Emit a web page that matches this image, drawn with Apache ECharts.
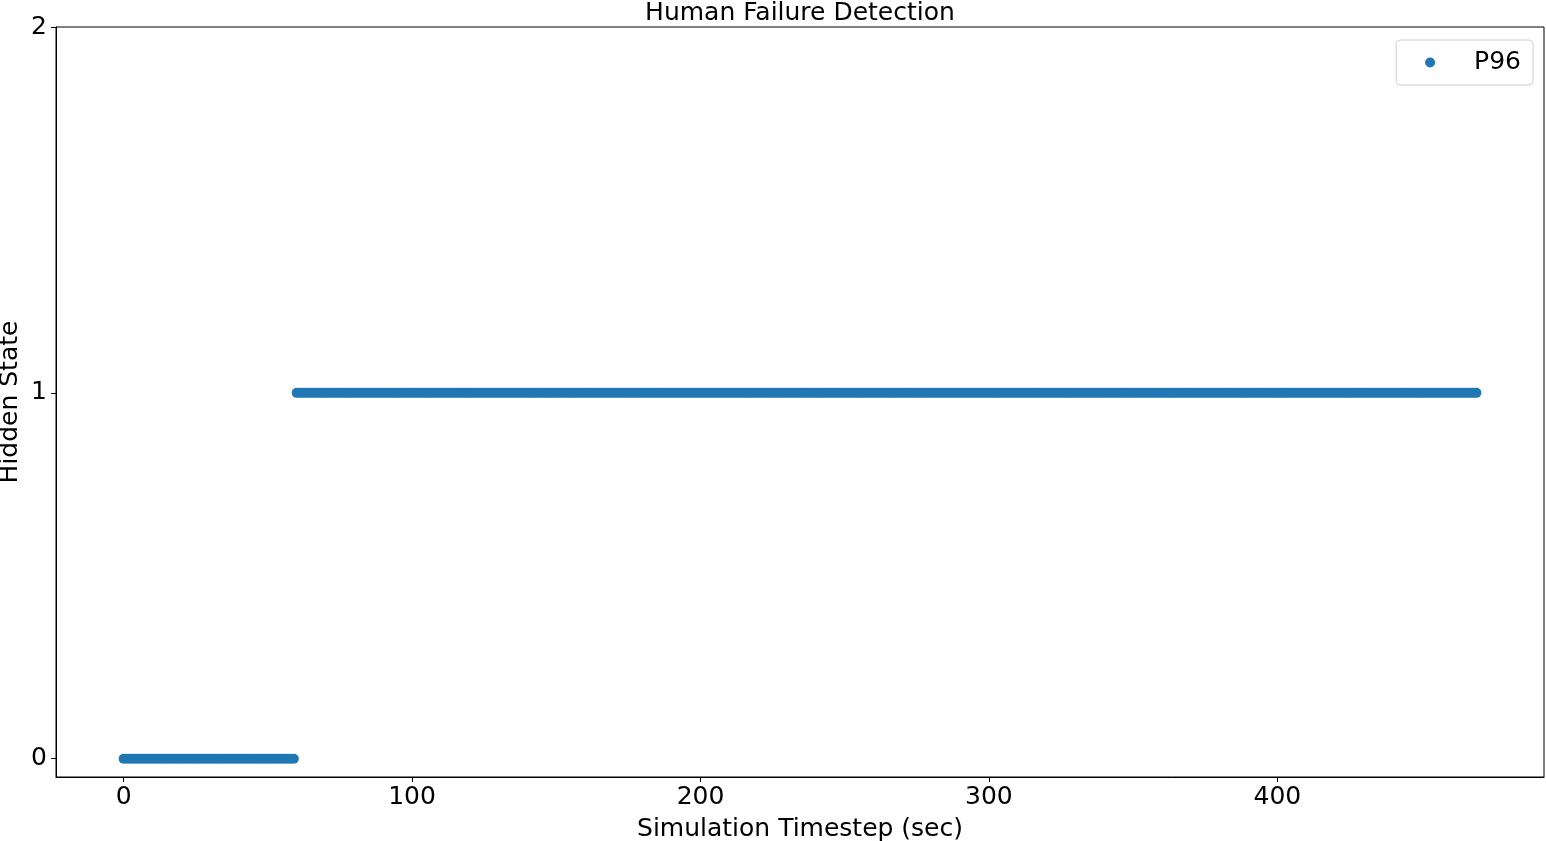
<!DOCTYPE html>
<html>
<head>
<meta charset="utf-8">
<script src="https://cdn.jsdelivr.net/npm/echarts@6/dist/echarts.min.js"></script>
<style>
html,body{margin:0;padding:0;background:#fff;}
#chart{width:1546px;height:841px;}
</style>
</head>
<body>
<div id="chart"></div>
<script>
const chartTitle = "Human Failure Detection";
const xAxisName = "Simulation Timestep (sec)";
const yAxisName = "Hidden State";
const seriesName = "P96";
const xTicks = [0, 100, 200, 300, 400];
const yTicks = [0, 1, 2];

const timesteps = [
0,1,2,3,4,5,6,7,8,9,10,11,12,13,14,15,16,17,18,19,
20,21,22,23,24,25,26,27,28,29,30,31,32,33,34,35,36,37,38,39,
40,41,42,43,44,45,46,47,48,49,50,51,52,53,54,55,56,57,58,59,
60,61,62,63,64,65,66,67,68,69,70,71,72,73,74,75,76,77,78,79,
80,81,82,83,84,85,86,87,88,89,90,91,92,93,94,95,96,97,98,99,
100,101,102,103,104,105,106,107,108,109,110,111,112,113,114,115,116,117,118,119,
120,121,122,123,124,125,126,127,128,129,130,131,132,133,134,135,136,137,138,139,
140,141,142,143,144,145,146,147,148,149,150,151,152,153,154,155,156,157,158,159,
160,161,162,163,164,165,166,167,168,169,170,171,172,173,174,175,176,177,178,179,
180,181,182,183,184,185,186,187,188,189,190,191,192,193,194,195,196,197,198,199,
200,201,202,203,204,205,206,207,208,209,210,211,212,213,214,215,216,217,218,219,
220,221,222,223,224,225,226,227,228,229,230,231,232,233,234,235,236,237,238,239,
240,241,242,243,244,245,246,247,248,249,250,251,252,253,254,255,256,257,258,259,
260,261,262,263,264,265,266,267,268,269,270,271,272,273,274,275,276,277,278,279,
280,281,282,283,284,285,286,287,288,289,290,291,292,293,294,295,296,297,298,299,
300,301,302,303,304,305,306,307,308,309,310,311,312,313,314,315,316,317,318,319,
320,321,322,323,324,325,326,327,328,329,330,331,332,333,334,335,336,337,338,339,
340,341,342,343,344,345,346,347,348,349,350,351,352,353,354,355,356,357,358,359,
360,361,362,363,364,365,366,367,368,369,370,371,372,373,374,375,376,377,378,379,
380,381,382,383,384,385,386,387,388,389,390,391,392,393,394,395,396,397,398,399,
400,401,402,403,404,405,406,407,408,409,410,411,412,413,414,415,416,417,418,419,
420,421,422,423,424,425,426,427,428,429,430,431,432,433,434,435,436,437,438,439,
440,441,442,443,444,445,446,447,448,449,450,451,452,453,454,455,456,457,458,459,
460,461,462,463,464,465,466,467,468,469
];

const hiddenState = [
0,0,0,0,0,0,0,0,0,0,0,0,0,0,0,0,0,0,0,0,
0,0,0,0,0,0,0,0,0,0,0,0,0,0,0,0,0,0,0,0,
0,0,0,0,0,0,0,0,0,0,0,0,0,0,0,0,0,0,0,0,
1,1,1,1,1,1,1,1,1,1,1,1,1,1,1,1,1,1,1,1,
1,1,1,1,1,1,1,1,1,1,1,1,1,1,1,1,1,1,1,1,
1,1,1,1,1,1,1,1,1,1,1,1,1,1,1,1,1,1,1,1,
1,1,1,1,1,1,1,1,1,1,1,1,1,1,1,1,1,1,1,1,
1,1,1,1,1,1,1,1,1,1,1,1,1,1,1,1,1,1,1,1,
1,1,1,1,1,1,1,1,1,1,1,1,1,1,1,1,1,1,1,1,
1,1,1,1,1,1,1,1,1,1,1,1,1,1,1,1,1,1,1,1,
1,1,1,1,1,1,1,1,1,1,1,1,1,1,1,1,1,1,1,1,
1,1,1,1,1,1,1,1,1,1,1,1,1,1,1,1,1,1,1,1,
1,1,1,1,1,1,1,1,1,1,1,1,1,1,1,1,1,1,1,1,
1,1,1,1,1,1,1,1,1,1,1,1,1,1,1,1,1,1,1,1,
1,1,1,1,1,1,1,1,1,1,1,1,1,1,1,1,1,1,1,1,
1,1,1,1,1,1,1,1,1,1,1,1,1,1,1,1,1,1,1,1,
1,1,1,1,1,1,1,1,1,1,1,1,1,1,1,1,1,1,1,1,
1,1,1,1,1,1,1,1,1,1,1,1,1,1,1,1,1,1,1,1,
1,1,1,1,1,1,1,1,1,1,1,1,1,1,1,1,1,1,1,1,
1,1,1,1,1,1,1,1,1,1,1,1,1,1,1,1,1,1,1,1,
1,1,1,1,1,1,1,1,1,1,1,1,1,1,1,1,1,1,1,1,
1,1,1,1,1,1,1,1,1,1,1,1,1,1,1,1,1,1,1,1,
1,1,1,1,1,1,1,1,1,1,1,1,1,1,1,1,1,1,1,1,
1,1,1,1,1,1,1,1,1,1
];

const points = timesteps.map((t, i) => [t, hiddenState[i]]);

const FONT = "DejaVu Sans";
const FS = 25;
const chart = echarts.init(document.getElementById('chart'), null, {renderer: 'canvas'});
chart.setOption({
  animation: false,
  backgroundColor: '#ffffff',
  textStyle: {fontFamily: FONT},
  title: {
    text: chartTitle,
    left: 795, top: -4,
    textAlign: 'center',
    textStyle: {fontFamily: FONT, fontSize: FS, fontWeight: 'normal', color: '#000'}
  },
  grid: {
    left: 56, right: 2, top: 27, bottom: 64,
    outerBoundsMode: 'none',
    containLabel: false,
    show: true, borderColor: '#000', borderWidth: 1, backgroundColor: 'transparent'
  },
  legend: {
    right: 13, top: 40,
    orient: 'vertical',
    itemWidth: 10, itemHeight: 10,
    padding: [10, 12, 10, 29],
    backgroundColor: '#fff',
    borderColor: '#d0d0d0', borderWidth: 1, borderRadius: 4,
    textStyle: {fontFamily: FONT, fontSize: FS, color: '#000', padding: [0, 0, 0, 34]},
    data: [{name: seriesName, icon: 'circle'}]
  },
  xAxis: {
    type: 'value',
    min: -23.45, max: 492.45,
    name: xAxisName,
    nameLocation: 'middle',
    nameGap: 40,
    nameTextStyle: {fontFamily: FONT, fontSize: FS, color: '#000'},
    splitLine: {show: false},
    axisLine: {show: true, onZero: false, lineStyle: {color: '#000', width: 1}},
    axisTick: {show: true, length: 5, lineStyle: {color: '#000'}, customValues: xTicks},
    axisLabel: {fontFamily: FONT, fontSize: FS, color: '#000', margin: 8, customValues: xTicks}
  },
  yAxis: {
    type: 'value',
    min: -0.05, max: 2,
    name: yAxisName,
    nameLocation: 'middle',
    nameMoveOverlap: false,
    nameGap: 33,
    nameTextStyle: {fontFamily: FONT, fontSize: FS, color: '#000'},
    splitLine: {show: false},
    axisLine: {show: true, onZero: false, lineStyle: {color: '#000', width: 1}},
    axisTick: {show: true, length: 5, lineStyle: {color: '#000'}, customValues: yTicks},
    axisLabel: {fontFamily: FONT, fontSize: FS, color: '#000', margin: 9, customValues: yTicks}
  },
  series: [{
    name: seriesName,
    type: 'scatter',
    symbol: 'circle',
    symbolSize: 10,
    itemStyle: {color: '#1f77b4', opacity: 1},
    data: points
  }]
});
</script>
</body>
</html>
